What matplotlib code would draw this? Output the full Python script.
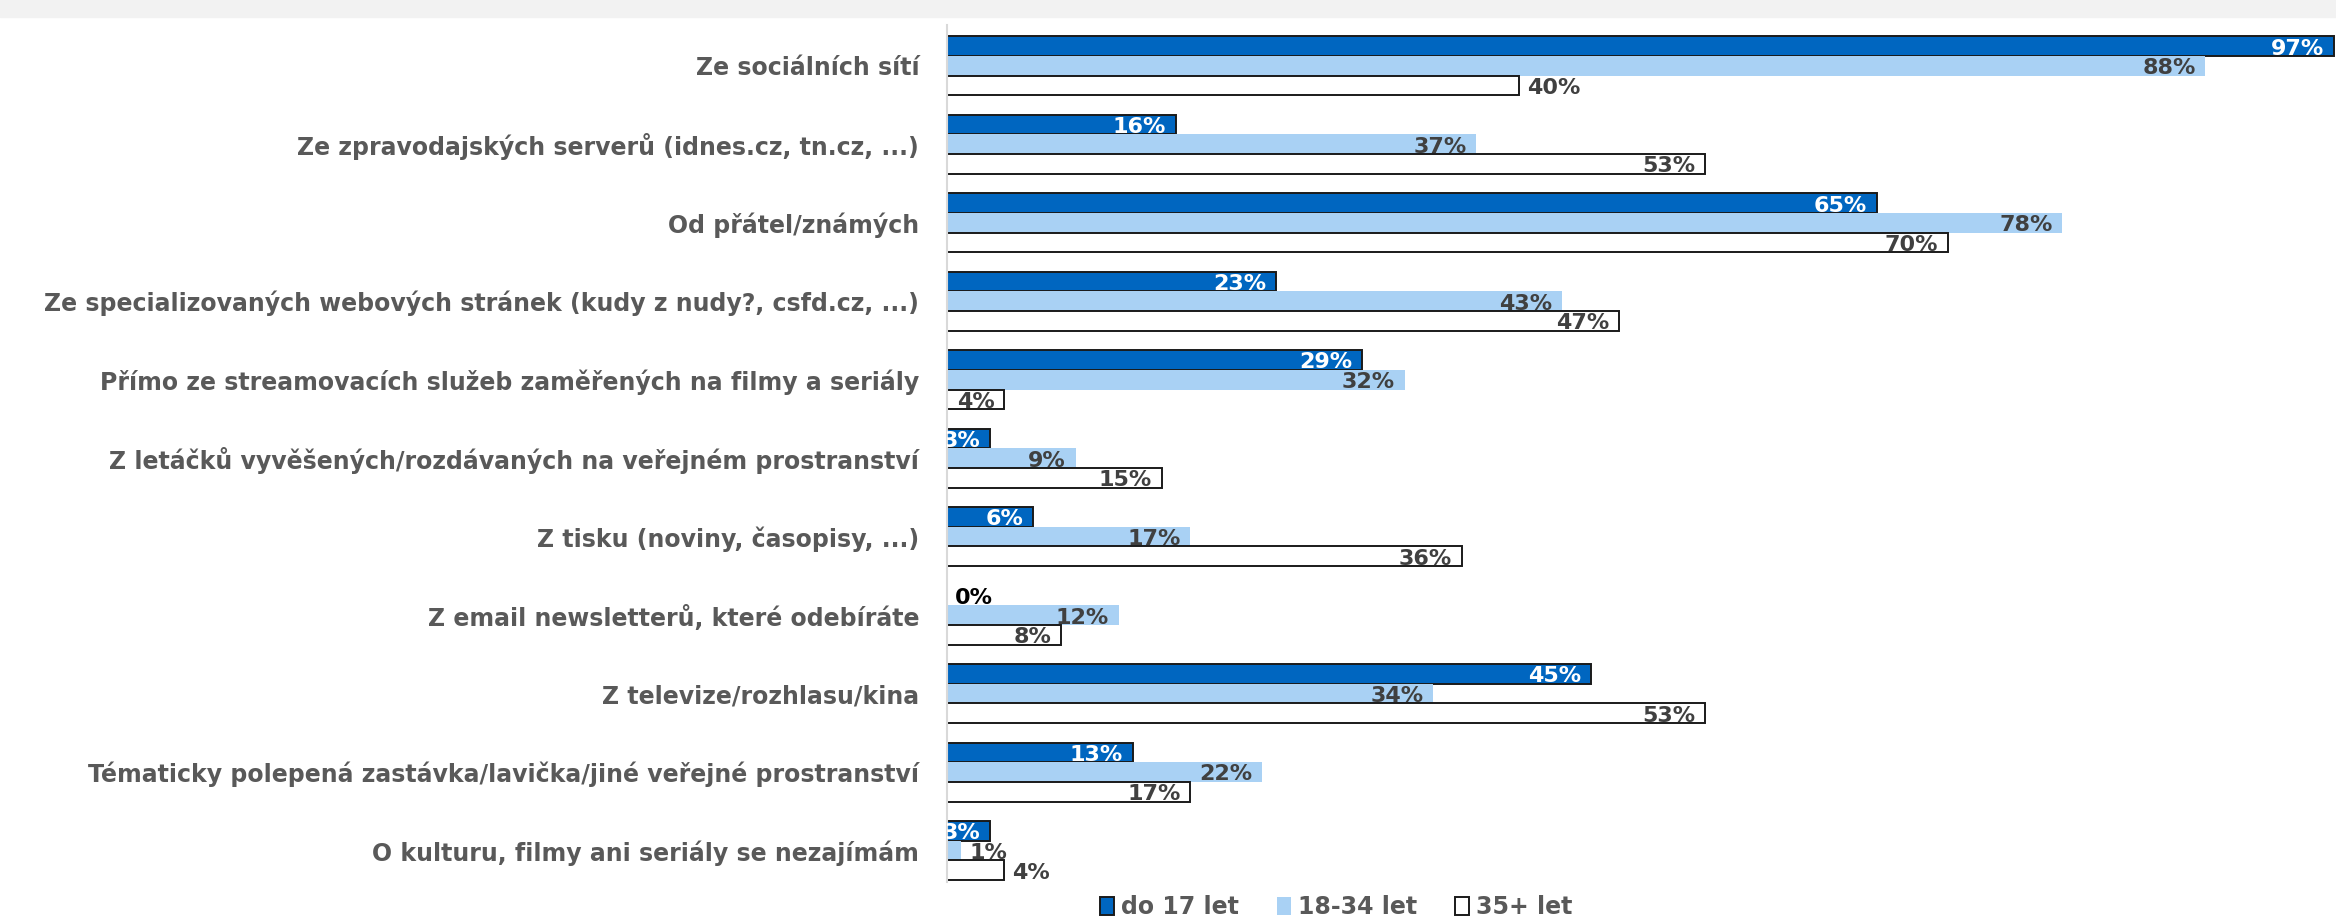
import numpy as np
import matplotlib.pyplot as plt
from matplotlib.patches import Rectangle

categories = [
    "Ze sociálních sítí",
    "Ze zpravodajských serverů (idnes.cz, tn.cz, ...)",
    "Od přátel/známých",
    "Ze specializovaných webových stránek (kudy z nudy?, csfd.cz, ...)",
    "Přímo ze streamovacích služeb zaměřených na filmy a seriály",
    "Z letáčků vyvěšených/rozdávaných na veřejném prostranství",
    "Z tisku (noviny, časopisy, ...)",
    "Z email newsletterů, které odebíráte",
    "Z televize/rozhlasu/kina",
    "Tématicky polepená zastávka/lavička/jiné veřejné prostranství",
    "O kulturu, filmy ani seriály se nezajímám",
]
series_names = ["do 17 let", "18-34 let", "35+ let"]
do_17 = [97, 16, 65, 23, 29, 3, 6, 0, 45, 13, 3]
od_18_34 = [88, 37, 78, 43, 32, 9, 17, 12, 34, 22, 1]
od_35 = [40, 53, 70, 47, 4, 15, 36, 8, 53, 17, 4]

# labels drawn outside the bar end (row, series)
outside = {(0, 2), (7, 0), (10, 1), (10, 2)}

colors = ["#0066C0", "#A9D1F4", "#FFFFFF"]
edges = ["#1A1A1A", "none", "#1A1A1A"]
text_colors = ["white", "#404040", "#404040"]

fig = plt.figure(figsize=(23.36, 9.22), dpi=100)
fig.patches.append(Rectangle((0, 1 - 17 / 922), 1, 17 / 922, transform=fig.transFigure,
                             color="#F2F2F2", zorder=0))
ax = fig.add_axes([947 / 2336, 40 / 922, 1 - 947 / 2336, 857 / 922])

y = np.arange(len(categories))
h = 0.25
data = [do_17, od_18_34, od_35]
for i, vals in enumerate(data):
    pos = y + (i - 1) * h
    bars = ax.barh(pos, vals, height=h, color=colors[i], edgecolor=edges[i],
                   linewidth=1.4, label=series_names[i])
    for r, (b, v) in enumerate(zip(bars, vals)):
        cy = b.get_y() + b.get_height() / 2 + 0.03
        if (r, i) in outside:
            ax.annotate(f"{v}%", (v, cy), xytext=(6, 0), textcoords="offset points",
                        ha="left", va="center", fontsize=16, fontweight="bold",
                        color="black" if v == 0 else "#404040")
        else:
            ax.annotate(f"{v}%", (v, cy), xytext=(-7, 0), textcoords="offset points",
                        ha="right", va="center", fontsize=16, fontweight="bold",
                        color=text_colors[i], annotation_clip=False, clip_on=True)

ax.set_xlim(0, 97.13)
ax.set_ylim(len(categories) - 1 + 0.4, -0.52)
ax.set_yticks(y)
ax.set_yticklabels(categories, fontsize=17, fontweight="bold", color="#595959")
ax.tick_params(axis="y", length=0, pad=20)
ax.set_xticks([])
for s in ["top", "right", "bottom"]:
    ax.spines[s].set_visible(False)
ax.spines["left"].set_color("#D9D9D9")
ax.spines["left"].set_linewidth(1.5)

fig.legend(loc="lower center", bbox_to_anchor=(1336 / 2336, -11 / 922), ncol=3, frameon=False,
           handlelength=0.6, handleheight=0.8, columnspacing=1.6, borderpad=0.1,
           handletextpad=0.3, labelcolor="#595959", prop={"weight": "bold", "size": 17})

fig.savefig("out.png", dpi=100)
